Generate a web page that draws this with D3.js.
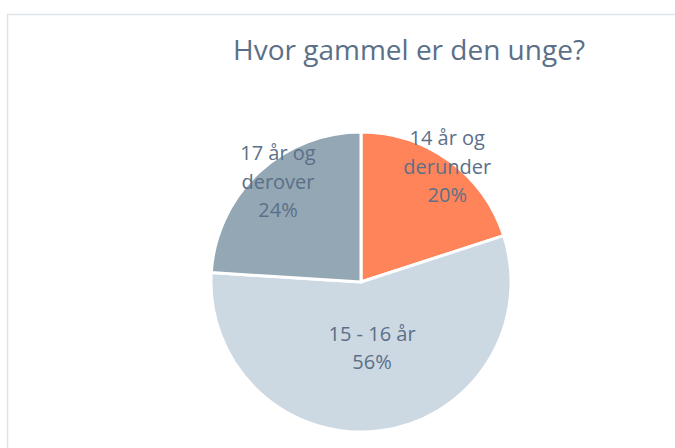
<!DOCTYPE html>
<html>
<head>
<meta charset="utf-8">
<script src="https://cdn.jsdelivr.net/npm/d3@7"></script>
<style>
  body { margin: 0; background: #fff; }
  text { font-family: "Open Sans", sans-serif; fill: #5b7088; }
</style>
</head>
<body>
<div id="chart"></div>
<script>
// data
var labels = [["14 år og", "derunder"], ["15 - 16 år"], ["17 år og", "derover"]];
var values = [20, 56, 24];
var colors = ["#ff8459", "#ccd8e2", "#94a7b5"];

var width = 675, height = 448;
var cx = 361, cy = 282, radius = 150;

var svg = d3.select("#chart")
            .append("svg")
            .attr("width", width)
            .attr("height", height);

// chart area border (only left + top visible in frame)
svg.append("rect")
   .attr("x", 7.5)
   .attr("y", 14.5)
   .attr("width", 800)
   .attr("height", 600)
   .attr("fill", "none")
   .attr("stroke", "#dde3e8")
   .attr("stroke-width", 1.5);

// title
svg.append("text")
   .attr("x", 409)
   .attr("y", 60)
   .attr("text-anchor", "middle")
   .style("font-size", "28px")
   .text("Hvor gammel er den unge?");

var pie = d3.pie().sort(null).value(function(d) { return d; });
var arcs = pie(values);

var arc = d3.arc().innerRadius(0).outerRadius(radius);

var g = svg.append("g")
           .attr("transform", "translate(" + cx + "," + cy + ")");

g.selectAll("path")
 .data(arcs)
 .enter()
 .append("path")
 .attr("d", arc)
 .attr("fill", function(d, i) { return colors[i]; })
 .attr("stroke", "#fff")
 .attr("stroke-width", 3)
 .attr("stroke-linejoin", "round");

// labels - excel "best fit" puts them at different distances / angles
var labelRadius = [144, 67, 130];
var labelShift = [0.8, -2.3, 3.5]; // degrees
var lineH = 28.5;

arcs.forEach(function(d, i) {
  var a = (d.startAngle + d.endAngle) / 2 + labelShift[i] * Math.PI / 180;
  var c = [labelRadius[i] * Math.sin(a), -labelRadius[i] * Math.cos(a)];
  var lines = labels[i].concat([values[i] + "%"]);
  var t = g.append("text")
           .attr("text-anchor", "middle")
           .style("font-size", "20px");
  lines.forEach(function(s, j) {
    t.append("tspan")
     .attr("x", c[0])
     .attr("y", c[1] + (j - (lines.length - 1) / 2) * lineH)
     .attr("dy", "0.35em")
     .text(s);
  });
});
</script>
</body>
</html>
